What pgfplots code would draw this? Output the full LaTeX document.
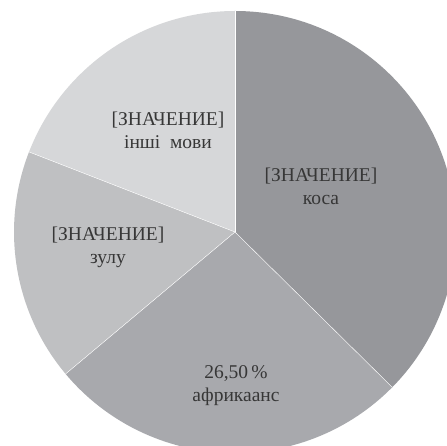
\documentclass[border=0pt]{standalone}
\usepackage{pgfplots}
\usepackage{pgfplotstable}
\pgfplotsset{compat=1.18}
\usepackage{fontspec}
\setmainfont{Liberation Serif}
\definecolor{cKosa}{RGB}{150,151,155}
\definecolor{cAfr}{RGB}{168,169,173}
\definecolor{cZulu}{RGB}{191,192,194}
\definecolor{cOther}{RGB}{214,215,217}
\definecolor{txt}{RGB}{55,55,55}
\pgfplotstableread{
value
37.4
26.5
17.0
19.1
}\piedata
\begin{document}
\begin{tikzpicture}
\useasboundingbox (0,0) rectangle (447pt,446pt);
\clip (0,0) rectangle (447pt,446pt);
\pgfplotstablegetelem{0}{value}\of\piedata\let\va\pgfplotsretval
\pgfplotstablegetelem{1}{value}\of\piedata\let\vb\pgfplotsretval
\pgfplotstablegetelem{2}{value}\of\piedata\let\vc\pgfplotsretval
\pgfplotstablegetelem{3}{value}\of\piedata\let\vd\pgfplotsretval
\pgfmathsetmacro\tot{\va+\vb+\vc+\vd}
\pgfmathsetmacro\aA{90-360*\va/\tot}
\pgfmathsetmacro\aB{\aA-360*\vb/\tot}
\pgfmathsetmacro\aC{\aB-360*\vc/\tot}
\begin{axis}[
  at={(0,0)}, anchor=south west,
  width=447pt, height=446pt, scale only axis,
  xmin=0, xmax=447, ymin=0, ymax=446,
  hide axis, clip=true,
]
\fill[cKosa] (axis cs:235,214) -- ++(90:221pt) arc[start angle=90, end angle=\aA, radius=221pt] -- cycle;
\fill[cAfr] (axis cs:235,214) -- ++(\aA:221pt) arc[start angle=\aA, end angle=\aB, radius=221pt] -- cycle;
\fill[cZulu] (axis cs:235,214) -- ++(\aB:221pt) arc[start angle=\aB, end angle=\aC, radius=221pt] -- cycle;
\fill[cOther] (axis cs:235,214) -- ++(\aC:221pt) arc[start angle=\aC, end angle=-270, radius=221pt] -- cycle;
\draw[white, line width=0.4pt] (axis cs:235,214) -- ++(90:221pt);
\draw[white, line width=0.4pt] (axis cs:235,214) -- ++(\aA:221pt);
\draw[white, line width=0.4pt] (axis cs:235,214) -- ++(\aB:221pt);
\draw[white, line width=0.4pt] (axis cs:235,214) -- ++(\aC:221pt);
\tikzset{lbl/.style={text=txt, align=center, font=\fontsize{19.5}{23}\selectfont, inner sep=0pt}}
\node[lbl] at (axis cs:321,260) {[ЗНАЧЕНИЕ]\\коса};
\node[lbl] at (axis cs:168,316) {[ЗНАЧЕНИЕ]\\інші\ \ мови};
\node[lbl] at (axis cs:108,199) {[ЗНАЧЕНИЕ]\\зулу};
\node[lbl] at (axis cs:236,60) {26,50\,\%\\африкаанс};
\end{axis}
\end{tikzpicture}
\end{document}
